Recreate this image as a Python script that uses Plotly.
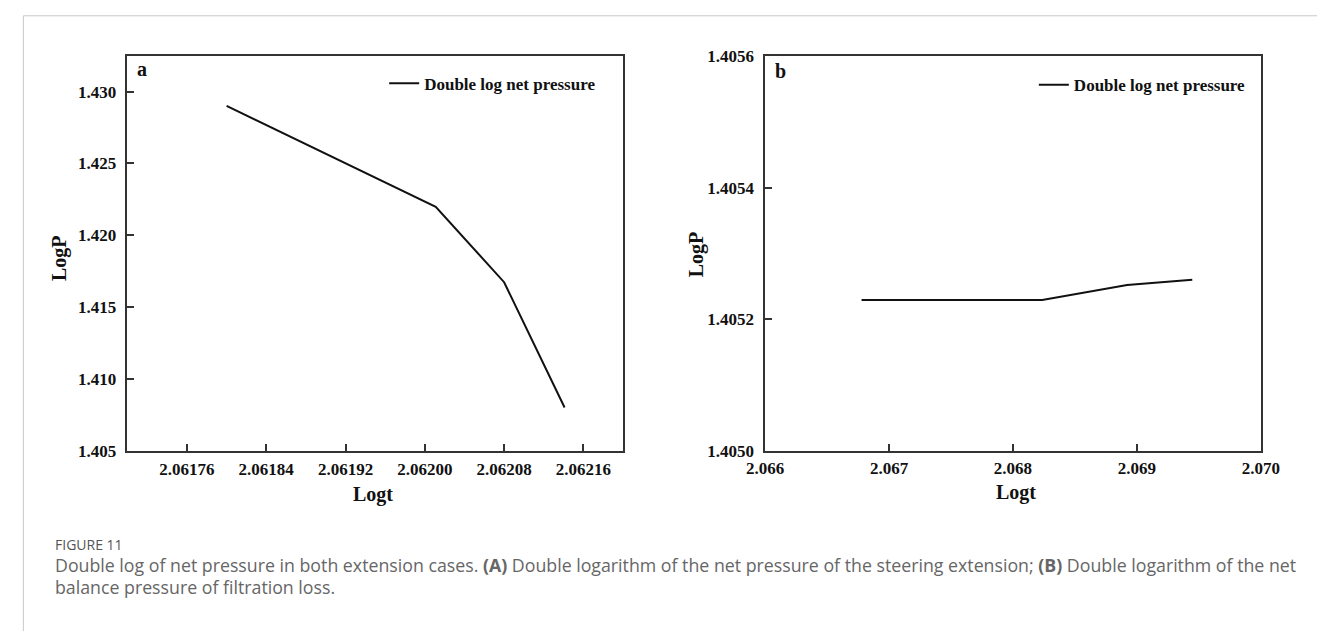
import plotly.graph_objects as go

# Panel a data
logt_a = [2.06180, 2.062011, 2.06208, 2.062141]
logp_a = [1.42901, 1.42198, 1.41673, 1.40800]
# Panel b data
logt_b = [2.066778, 2.068236, 2.068921, 2.069447]
logp_b = [1.405229, 1.405229, 1.405252, 1.405260]

xticks_a = [2.06176, 2.06184, 2.06192, 2.06200, 2.06208, 2.06216]
yticks_a = [1.405, 1.410, 1.415, 1.420, 1.425, 1.430]
xticks_b = [2.066, 2.067, 2.068, 2.069, 2.070]
yticks_b = [1.4050, 1.4052, 1.4054, 1.4056]

series_name = "Double log net pressure"

W, H = 1317, 631
SERIF = "Liberation Serif, Times New Roman, serif"
SANS = "Open Sans, Noto Sans, sans-serif"

def px(x):
    return x / W

def py(y):
    return 1 - y / H

fig = go.Figure()
fig.add_trace(go.Scatter(x=logt_a, y=logp_a, mode="lines", name=series_name,
                         line=dict(color="#111", width=2), xaxis="x", yaxis="y",
                         legend="legend"))
fig.add_trace(go.Scatter(x=logt_b, y=logp_b, mode="lines", name=series_name,
                         line=dict(color="#111", width=2), xaxis="x2", yaxis="y2",
                         legend="legend2"))

axis_common = dict(showline=True, linecolor="#333", linewidth=1.5, mirror=True,
                   ticks="inside", ticklen=7, tickwidth=1.5, tickcolor="#333",
                   showgrid=False, zeroline=False,
                   tickfont=dict(family=SERIF, size=17, color="#111", weight="bold"))

xa = [111.7, 622]
xb = [768.3, 1278.7]
yd = [py(455.3), py(48.7)]

fig.update_layout(
    width=W, height=H,
    margin=dict(l=0, r=0, t=0, b=0),
    paper_bgcolor="white", plot_bgcolor="white",
    xaxis=dict(domain=[px(xa[0]), px(xa[1])], range=[2.0617, 2.0622],
               tickvals=xticks_a, tickformat=".5f", anchor="y",
               ticklabelstandoff=2, **axis_common),
    yaxis=dict(domain=yd, range=[1.405, 1.43247], tickvals=yticks_a,
               tickformat=".3f", anchor="x", ticklabelstandoff=6, **axis_common),
    xaxis2=dict(domain=[px(xb[0]), px(xb[1])], range=[2.066, 2.070],
                tickvals=xticks_b, tickformat=".3f", anchor="y2",
                ticklabelstandoff=1, **axis_common),
    yaxis2=dict(domain=yd, range=[1.4050, 1.4056], tickvals=yticks_b,
                tickformat=".4f", anchor="x2", ticklabelstandoff=6, **axis_common),
    legend=dict(x=px(376), y=py(77), xanchor="left", yanchor="middle",
                bgcolor="rgba(0,0,0,0)",
                font=dict(family=SERIF, size=17, color="#111", weight="bold")),
    legend2=dict(x=px(1045), y=py(78.5), xanchor="left", yanchor="middle",
                 bgcolor="rgba(0,0,0,0)",
                 font=dict(family=SERIF, size=17, color="#111", weight="bold")),
    showlegend=True,
    shapes=[dict(type="line", xref="paper", yref="paper", x0=px(4.5), x1=1.2,
                 y0=py(7), y1=py(7), line=dict(color="#c8c8c8", width=1)),
            dict(type="line", xref="paper", yref="paper", x0=px(4.5), x1=px(4.5),
                 y0=py(7), y1=-0.1, line=dict(color="#c8c8c8", width=1))],
)

ann = []
def text(x, y, s, size, family=SERIF, bold=True, angle=0, color="#111", xanchor="center"):
    ann.append(dict(x=px(x), y=py(y), xref="paper", yref="paper", text=s,
                    showarrow=False, textangle=angle, xanchor=xanchor, yanchor="middle",
                    font=dict(family=family, size=size, color=color,
                              weight="bold" if bold else "normal")))

text(127, 62, "a", 20)
text(784, 64, "b", 20)
text(365, 501, "Logt", 20)
text(1027, 499, "Logt", 20)
text(41, 257, "LogP", 20, angle=-90)
text(697, 253, "LogP", 20, angle=-90)
text(35, 552, "FIGURE 11", 14, family=SANS, bold=False, color="#555", xanchor="left")
text(35, 573, "Double log of net pressure in both extension cases. <b>(A)</b> Double logarithm of the net pressure of the steering extension; <b>(B)</b> Double logarithm of the net",
     17.75, family=SANS, bold=False, color="#666", xanchor="left")
text(35, 596, "balance pressure of filtration loss.", 17.75, family=SANS, bold=False,
     color="#666", xanchor="left")
fig.update_layout(annotations=ann)

fig.write_html("out.html", config={"displayModeBar": False},
               post_script="document.body.style.margin='0';document.body.style.overflow='hidden';")
